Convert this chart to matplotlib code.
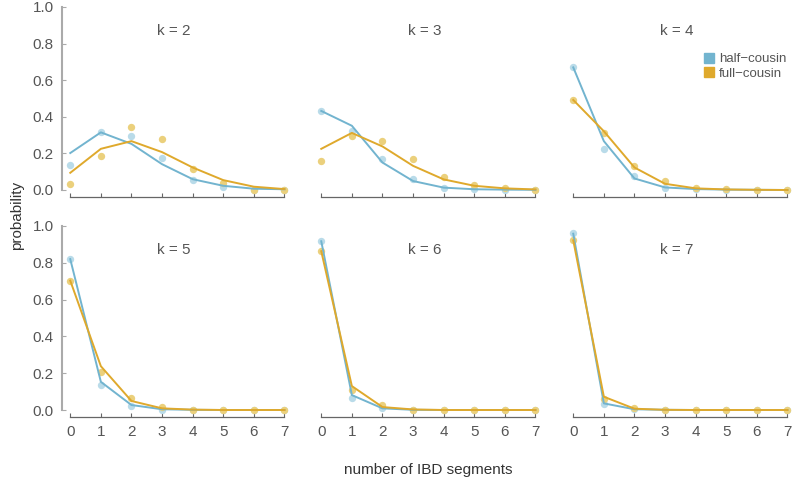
import numpy as np
import matplotlib
matplotlib.use("Agg")
import matplotlib.pyplot as plt
from matplotlib.lines import Line2D

plt.rcParams['font.family'] = ['Liberation Sans', 'DejaVu Sans']

segments = np.arange(8)
ks = [2, 3, 4, 5, 6, 7]

# model curves (lines)
half_line = {
    2: [0.202, 0.315, 0.252, 0.141, 0.059, 0.023, 0.007, 0.004],
    3: [0.432, 0.351, 0.150, 0.049, 0.013, 0.004, 0.002, 0.001],
    4: [0.670, 0.267, 0.063, 0.014, 0.005, 0.002, 0.001, 0.000],
    5: [0.820, 0.153, 0.027, 0.004, 0.001, 0.000, 0.000, 0.000],
    6: [0.917, 0.081, 0.009, 0.001, 0.000, 0.000, 0.000, 0.000],
    7: [0.958, 0.036, 0.004, 0.001, 0.000, 0.000, 0.000, 0.000],
}
full_line = {
    2: [0.094, 0.225, 0.267, 0.207, 0.123, 0.054, 0.018, 0.005],
    3: [0.225, 0.312, 0.238, 0.132, 0.058, 0.023, 0.009, 0.003],
    4: [0.492, 0.321, 0.123, 0.034, 0.009, 0.003, 0.001, 0.000],
    5: [0.703, 0.238, 0.049, 0.009, 0.002, 0.000, 0.000, 0.000],
    6: [0.863, 0.130, 0.016, 0.003, 0.000, 0.000, 0.000, 0.000],
    7: [0.922, 0.072, 0.007, 0.001, 0.000, 0.000, 0.000, 0.000],
}
# simulated frequencies (points)
half_pts = {
    2: [0.139, 0.319, 0.294, 0.173, 0.054, 0.016, 0.002, 0.000],
    3: [0.432, 0.321, 0.168, 0.061, 0.013, 0.003, 0.000, 0.000],
    4: [0.670, 0.223, 0.077, 0.010, 0.004, 0.000, 0.000, 0.000],
    5: [0.820, 0.135, 0.020, 0.002, 0.000, 0.000, 0.000, 0.000],
    6: [0.917, 0.067, 0.011, 0.000, 0.000, 0.000, 0.000, 0.000],
    7: [0.960, 0.030, 0.004, 0.000, 0.000, 0.000, 0.000, 0.000],
}
full_pts = {
    2: [0.031, 0.186, 0.346, 0.276, 0.117, 0.040, 0.002, 0.000],
    3: [0.159, 0.297, 0.270, 0.171, 0.072, 0.025, 0.009, 0.000],
    4: [0.492, 0.312, 0.132, 0.049, 0.013, 0.003, 0.001, 0.000],
    5: [0.700, 0.207, 0.067, 0.018, 0.002, 0.000, 0.000, 0.000],
    6: [0.863, 0.106, 0.027, 0.002, 0.000, 0.000, 0.000, 0.000],
    7: [0.922, 0.058, 0.013, 0.000, 0.000, 0.000, 0.000, 0.000],
}

blue = '#72b4cf'
orange = '#dfa92c'
blue_pt = '#b9dbe9'
orange_pt = '#ebd07c'
txt = '#555555'

fig = plt.figure(figsize=(7.92, 4.8), dpi=100)

lefts = [62 / 792, 313 / 792, 565 / 792]
width = 224 / 792
# (zero line, one line) in pixels from top
rows_px = [(190, 7), (410, 226)]

for i, k in enumerate(ks):
    row, col = divmod(i, 3)
    y0, y1 = rows_px[row]
    ax = fig.add_axes([lefts[col], 1 - y0 / 480, width, (y0 - y1) / 480])
    ax.scatter(segments, half_pts[k], s=28, color=blue_pt, zorder=2, clip_on=False, linewidths=0)
    ax.scatter(segments, full_pts[k], s=28, color=orange_pt, zorder=2, clip_on=False, linewidths=0)
    ax.plot(segments, half_line[k], color=blue, lw=1.4, zorder=3, clip_on=False)
    ax.plot(segments, full_line[k], color=orange, lw=1.4, zorder=3, clip_on=False)

    ax.set_xlim(-0.27, 7.05)
    ax.set_ylim(0, 1)
    ax.text(0.5, 0.87, f'k = {k}', transform=ax.transAxes, ha='center', va='center',
            fontsize=11, color=txt)

    for s in ['top', 'right']:
        ax.spines[s].set_visible(False)
    ax.spines['bottom'].set_position(('outward', 5))
    ax.spines['bottom'].set_bounds(0, 7)
    ax.spines['bottom'].set_color('#666666')
    ax.spines['bottom'].set_linewidth(0.9)
    ax.set_xticks(segments)
    ax.tick_params(axis='x', direction='in', length=3, color='#666666', labelcolor=txt,
                   labelsize=11, pad=6)
    if row == 0:
        ax.tick_params(axis='x', labelbottom=False)

    if col == 0:
        ax.spines['left'].set_color('#aaaaaa')
        ax.spines['left'].set_linewidth(1.5)
        ax.spines['left'].set_bounds(0, 1)
        ax.set_yticks(np.arange(0, 1.01, 0.2))
        ax.set_yticklabels([f'{v:.1f}' for v in np.arange(0, 1.01, 0.2)])
        ax.tick_params(axis='y', direction='in', length=3, color='#aaaaaa', labelcolor=txt,
                       labelsize=11, pad=6)
    else:
        ax.spines['left'].set_visible(False)
        ax.set_yticks([])
    ax.patch.set_visible(False)

handles = [Line2D([], [], marker='s', ls='', ms=7, color=blue, label='half\u2212cousin'),
           Line2D([], [], marker='s', ls='', ms=7, color=orange, label='full\u2212cousin')]
fig.legend(handles=handles, loc='upper left', bbox_to_anchor=(702 / 792, 1 - 53 / 480),
           frameon=False, fontsize=9.5, labelcolor=txt, handletextpad=0.3,
           labelspacing=0.2, borderaxespad=0, borderpad=0, handlelength=1.0)

fig.text(17 / 792, 1 - 215 / 480, 'probability', rotation=90, ha='center', va='center',
         fontsize=11, color='#333333')
fig.text(428 / 792, 1 - 470 / 480, 'number of IBD segments', ha='center', va='center',
         fontsize=11, color='#333333')

fig.savefig('out.png', dpi=100)
